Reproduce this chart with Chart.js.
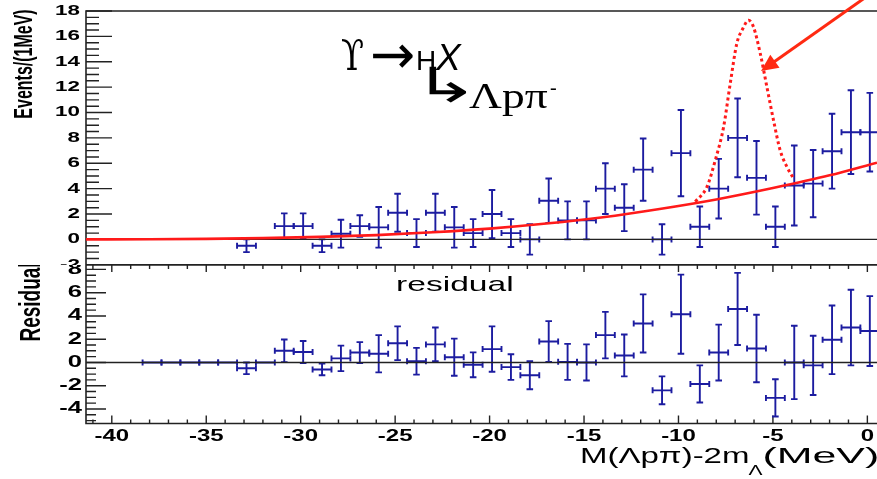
<!DOCTYPE html>
<html>
<head>
<meta charset="utf-8">
<script src="https://cdn.jsdelivr.net/npm/chart.js@4.4.1/dist/chart.umd.min.js"></script>
<style>
  body { margin: 0; background: #fff; }
  #wrap { position: relative; width: 877px; height: 479px; overflow: hidden; }
  canvas { position: absolute; left: 0; }
  #top { top: 0; }
  #res { top: 265px; }
</style>
</head>
<body>
<div id="wrap">
  <canvas id="top" width="877" height="265"></canvas>
  <canvas id="res" width="877" height="214"></canvas>
</div>
<script>
// x axis: M(Λpπ) - 2mΛ in MeV, 1 MeV bins
const xMin = -41.366;
const xMax = 0.51;
const binHalf = 0.5;
const xTicks = [-40, -35, -30, -25, -20, -15, -10, -5, 0];
const topYTicks = [-2, 0, 2, 4, 6, 8, 10, 12, 14, 16, 18];
const resYTicks = [-4, -2, 0, 2, 4, 6, 8];

// upper panel: events per bin (empty bins are not drawn)
const eventX = [-32.87, -30.87, -29.87, -28.87, -27.87, -26.87, -25.87, -24.87, -23.87, -22.87, -21.87,
  -20.87, -19.87, -18.87, -17.87, -16.87, -15.87, -14.87, -13.87, -12.87, -11.87, -10.87,
  -9.87, -8.87, -7.87, -6.87, -5.87, -4.87, -3.87, -2.87, -1.87, -0.87, 0.13];
const eventY = [-0.5, 1.05, 1.05, -0.5, 0.45, 1.05, 0.95, 2.1, 0.5, 2.1, 0.95,
  0.5, 2.0, 0.5, 0.0, 3.05, 1.5, 1.5, 4.0, 2.5, 5.5, 0.0,
  6.8, 1.0, 4.0, 8.0, 4.85, 1.0, 4.25, 4.4, 6.95, 8.45, 8.45];
const eventErr = [0.5, 1.0, 1.0, 0.5, 1.1, 0.85, 1.6, 1.5, 1.1, 1.5, 1.6,
  1.1, 1.9, 1.1, 1.2, 1.75, 1.5, 1.5, 2.0, 1.85, 2.45, 1.2,
  3.4, 1.6, 2.35, 3.1, 2.9, 1.6, 3.15, 2.65, 2.95, 3.3, 3.1];

// background fit (solid) and fit with signal (dotted)
const fitX = [-41.37, -38, -35, -32, -29, -26, -23, -20, -17, -14, -11, -8, -5, -2, 0.51];
const fitY = [0, 0.01, 0.04, 0.1, 0.2, 0.34, 0.56, 0.85, 1.25, 1.75, 2.4, 3.15, 4.05, 5.05, 6.05];
const peakX = [-9.11, -8.49, -8.05, -7.61, -7.26, -6.91, -6.59, -6.29, -6.03, -5.67, -5.32, -4.97, -4.62, -4.26, -3.91];
const peakY = [2.97, 4.15, 6.25, 8.87, 12.29, 15.44, 16.62, 17.28, 16.75, 14.65, 12.02, 9.4, 7.04, 5.72, 4.81];

// lower panel: residuals
const resX = [-37.87, -36.87, -35.87, -34.87, -33.87, -32.87, -31.87, -30.87, -29.87, -28.87, -27.87,
  -26.87, -25.87, -24.87, -23.87, -22.87, -21.87, -20.87, -19.87, -18.87, -17.87, -16.87,
  -15.87, -14.87, -13.87, -12.87, -11.87, -10.87, -9.87, -8.87, -7.87, -6.87, -5.87,
  -4.87, -3.87, -2.87, -1.87, -0.87, 0.13];
const resY = [0, 0, 0, 0, 0, -0.5, 0, 1.0, 0.9, -0.6, 0.35,
  0.85, 0.75, 1.65, 0.1, 1.55, 0.45, -0.2, 1.15, -0.4, -1.1, 1.8,
  0.05, 0, 2.35, 0.6, 3.35, -2.4, 4.15, -1.85, 0.85, 4.6, 1.2,
  -3.05, 0, -0.25, 1.95, 3.0, 2.7];
const resErr = [0, 0, 0, 0, 0, 0.5, 0, 0.97, 0.95, 0.5, 1.1,
  0.9, 1.6, 1.45, 1.15, 1.45, 1.6, 1.07, 1.95, 1.1, 1.2, 1.75,
  1.55, 1.55, 2.0, 1.8, 2.5, 1.2, 3.4, 1.6, 2.4, 3.1, 2.9,
  1.6, 3.15, 2.55, 2.95, 3.25, 3.0];

const BLUE = '#1c1ca0';
const RED = '#ff1a1a';
const INK = '#222';
const SANS = "'Liberation Sans', Arial, sans-serif";
const SX = 1.6; // the picture is stretched sideways, so is its lettering

function wideText(ctx, text, x, y, font, align, baseline, rot, sx) {
  ctx.save();
  ctx.font = font;
  ctx.fillStyle = '#000';
  ctx.textAlign = align || 'left';
  ctx.textBaseline = baseline || 'alphabetic';
  ctx.translate(x, y);
  ctx.scale(sx || SX, 1);
  if (rot) ctx.rotate(rot);
  ctx.fillText(text, 0, 0);
  ctx.restore();
}

function glyph(ctx, text, x, y, font, sx, sy) {
  ctx.save();
  ctx.font = font;
  ctx.translate(x, y);
  ctx.scale(sx, sy);
  ctx.fillText(text, 0, 0);
  ctx.restore();
}

function toPoints(xs, ys) {
  return xs.map((x, i) => ({ x: x, y: ys[i] }));
}

/**
 * Frame, inside ticks and tick labels of one panel, drawn ROOT style.
 */
function panelAxes(cfg) {
  return {
    id: 'axes_' + cfg.name,
    beforeDatasetsDraw(chart) {
      const { ctx, chartArea: a, scales: { x, y } } = chart;
      ctx.save();
      ctx.strokeStyle = INK;
      ctx.lineWidth = 1.6;
      ctx.beginPath();
      ctx.moveTo(a.right + 5, a.top);
      ctx.lineTo(a.left, a.top);
      ctx.lineTo(a.left, a.bottom);
      ctx.lineTo(a.right + 5, a.bottom);
      ctx.stroke();

      // y ticks, major every 2, minor every 0.5
      ctx.lineWidth = 1.4;
      let n = Math.round((cfg.yTo - cfg.yFrom) / 0.5);
      ctx.beginPath();
      for (let i = 0; i <= n; i++) {
        let v = cfg.yFrom + i * 0.5;
        let py = y.getPixelForValue(v);
        if (py < a.top - 0.5 || py > a.bottom + 0.5) continue;
        let len = (Math.abs(v / 2 - Math.round(v / 2)) < 1e-6) ? cfg.yMajor : cfg.yMinorLen;
        ctx.moveTo(a.left, py);
        ctx.lineTo(a.left + len, py);
      }
      ctx.stroke();

      // x ticks along the frame, major every 5, minor every 1
      if (cfg.xTicks) {
        ctx.beginPath();
        for (let v = -41; v <= 0; v++) {
          let px = x.getPixelForValue(v);
          let major = v % 5 === 0;
          ctx.moveTo(px, a.bottom);
          ctx.lineTo(px, a.bottom - (major ? 8 : 4));
          ctx.moveTo(px, a.top);
          ctx.lineTo(px, a.top + (major ? 7 : 4));
        }
        ctx.stroke();
      }
      ctx.restore();

      // tick labels
      cfg.yLabels.forEach(v => {
        wideText(ctx, String(v), cfg.yLabelRight, y.getPixelForValue(v), 'bold ' + cfg.yFont + 'px ' + SANS, 'right', 'middle');
      });
      if (cfg.xTicks) {
        cfg.xTicks.forEach(v => {
          wideText(ctx, String(v), x.getPixelForValue(v), a.bottom + 13, 'bold 16px ' + SANS, 'center', 'middle', 0, 1.5);
        });
      }
    }
  };
}

// crosses: bin width horizontally, error vertically, with end caps; then the zero line over them
const errorBars = {
  id: 'errorBars',
  beforeDatasetsDraw(chart) {
    const { ctx, chartArea: a, scales: { x, y } } = chart;
    chart.data.datasets.forEach(ds => {
      if (!ds.errors) return;
      ctx.save();
      ctx.beginPath();
      ctx.rect(a.left, a.top - 2, a.right - a.left + 10, a.bottom - a.top + 4);
      ctx.clip();
      ctx.strokeStyle = BLUE;
      ctx.lineWidth = 1.9;
      ds.data.forEach((p, i) => {
        let px = x.getPixelForValue(p.x);
        let py = y.getPixelForValue(p.y);
        let xl = x.getPixelForValue(p.x - binHalf);
        let xr = x.getPixelForValue(p.x + binHalf);
        let e = ds.errors[i];
        ctx.beginPath();
        ctx.moveTo(xl, py); ctx.lineTo(xr, py);
        ctx.moveTo(xl, py - 3); ctx.lineTo(xl, py + 3);
        ctx.moveTo(xr, py - 3); ctx.lineTo(xr, py + 3);
        if (e > 0) {
          let yt = y.getPixelForValue(p.y + e);
          let yb = y.getPixelForValue(p.y - e);
          ctx.moveTo(px, yt); ctx.lineTo(px, yb);
          ctx.moveTo(px - 3.3, yt); ctx.lineTo(px + 3.3, yt);
          ctx.moveTo(px - 3.3, yb); ctx.lineTo(px + 3.3, yb);
        }
        ctx.stroke();
      });
      ctx.restore();
    });
    ctx.save();
    ctx.strokeStyle = INK;
    ctx.lineWidth = 1.4;
    let y0 = y.getPixelForValue(0);
    ctx.beginPath();
    ctx.moveTo(a.left, y0);
    ctx.lineTo(a.right + 5, y0);
    ctx.stroke();
    ctx.restore();
  }
};

// titles, decay label and red arrow of the upper panel
const topDecor = {
  id: 'topDecor',
  afterDraw(chart) {
    const { ctx, scales: { x, y } } = chart;
    wideText(ctx, 'Events/(1MeV)', 31.5, 64, 'bold 16px ' + SANS, 'center', 'alphabetic', -Math.PI / 2);

    ctx.save();
    ctx.fillStyle = '#000';
    ctx.textBaseline = 'alphabetic';
    glyph(ctx, 'ϒ', 341, 70, "42px 'DejaVu Serif', 'Liberation Serif', serif", 0.8, 1);
    glyph(ctx, '→', 370, 73, "54px 'DejaVu Sans', sans-serif", 1, 1);
    glyph(ctx, 'H', 416, 70, '28px ' + SANS, 1, 1);
    glyph(ctx, 'X', 436, 70, 'italic 37px ' + SANS, 1, 1);
    glyph(ctx, '↳', 413, 102, "48px 'DejaVu Sans', sans-serif", 1.65, 1);
    glyph(ctx, 'Λpπ', 469, 108, "35px 'Liberation Serif', serif", 1.3, 1);
    glyph(ctx, '-', 550, 94, "20px 'Liberation Serif', serif", 1, 1);
    ctx.restore();

    // red arrow pointing at the signal peak
    let tx = x.getPixelForValue(-5.63), ty = y.getPixelForValue(13.27);
    let dx = 0.817, dy = -0.576;
    ctx.save();
    ctx.strokeStyle = '#ff2a12';
    ctx.fillStyle = '#ff2a12';
    ctx.lineWidth = 3;
    ctx.beginPath();
    ctx.moveTo(tx + dx * 14, ty + dy * 14);
    ctx.lineTo(tx + dx * 160, ty + dy * 160);
    ctx.stroke();
    ctx.beginPath();
    ctx.moveTo(tx, ty);
    ctx.lineTo(tx + dx * 17 - dy * 8, ty + dy * 17 + dx * 8);
    ctx.lineTo(tx + dx * 17 + dy * 8, ty + dy * 17 - dx * 8);
    ctx.closePath();
    ctx.fill();
    ctx.restore();
  }
};

const resDecor = {
  id: 'resDecor',
  afterDraw(chart) {
    const { ctx } = chart;
    wideText(ctx, 'Residual', 40, 37, 'bold 19px ' + SANS, 'center', 'alphabetic', -Math.PI / 2);
    wideText(ctx, 'residual', 396, 25.5, '21px ' + SANS, 'left', 'alphabetic');

    // x axis title with subscript Λ
    let font = '22px ' + SANS, sub = '14px ' + SANS;
    let px = 580, base = 198.3;
    ctx.save();
    ctx.font = font;
    let w1 = ctx.measureText('M(Λpπ)-2m').width * 1.5;
    ctx.font = sub;
    let w2 = ctx.measureText('Λ').width * 1.5;
    ctx.restore();
    wideText(ctx, 'M(Λpπ)-2m', px, base, font, 'left', 'alphabetic', 0, 1.5);
    px += w1 - 1;
    wideText(ctx, 'Λ', px, base + 12, sub, 'left', 'alphabetic', 0, 1.5);
    px += w2;
    wideText(ctx, '(MeV)', px, base, font, 'left', 'alphabetic', 0, 1.95);
  }
};

const common = {
  responsive: false,
  animation: false,
  devicePixelRatio: 1,
  events: [],
  plugins: { legend: { display: false }, tooltip: { enabled: false } }
};

new Chart(document.getElementById('top'), {
  type: 'scatter',
  data: {
    datasets: [
      { label: 'data', data: toPoints(eventX, eventY), errors: eventErr, pointRadius: 0 },
      { type: 'line', label: 'background', data: toPoints(fitX, fitY), borderColor: RED, borderWidth: 2.6,
        pointRadius: 0, cubicInterpolationMode: 'monotone', fill: false },
      { type: 'line', label: 'signal', data: toPoints(peakX, peakY), borderColor: RED, borderWidth: 3,
        borderDash: [3, 3], pointRadius: 0, cubicInterpolationMode: 'monotone', fill: false }
    ]
  },
  options: Object.assign({}, common, {
    layout: { padding: { left: 86, top: 11, right: 0, bottom: 0.2 } },
    scales: {
      x: { type: 'linear', min: xMin, max: xMax, display: false },
      y: { min: -2, max: 18, display: false }
    }
  }),
  plugins: [
    panelAxes({ name: 'top', yFrom: -2, yTo: 18, yMajor: 26, yMinorLen: 13, yLabels: topYTicks, yLabelRight: 80, yFont: 14 }),
    errorBars, topDecor
  ]
});

new Chart(document.getElementById('res'), {
  type: 'scatter',
  data: {
    datasets: [
      { label: 'residual', data: toPoints(resX, resY), errors: resErr, pointRadius: 0 }
    ]
  },
  options: Object.assign({}, common, {
    layout: { padding: { left: 86, top: 0, right: 0, bottom: 55.5 } },
    scales: {
      x: { type: 'linear', min: xMin, max: xMax, display: false },
      y: { min: -5.25, max: 8.38, display: false }
    }
  }),
  plugins: [
    panelAxes({ name: 'res', yFrom: -5, yTo: 8, yMajor: 20, yMinorLen: 10, yLabels: resYTicks, yLabelRight: 82, yFont: 16, xTicks: xTicks }),
    errorBars, resDecor
  ]
});
</script>
</body>
</html>
